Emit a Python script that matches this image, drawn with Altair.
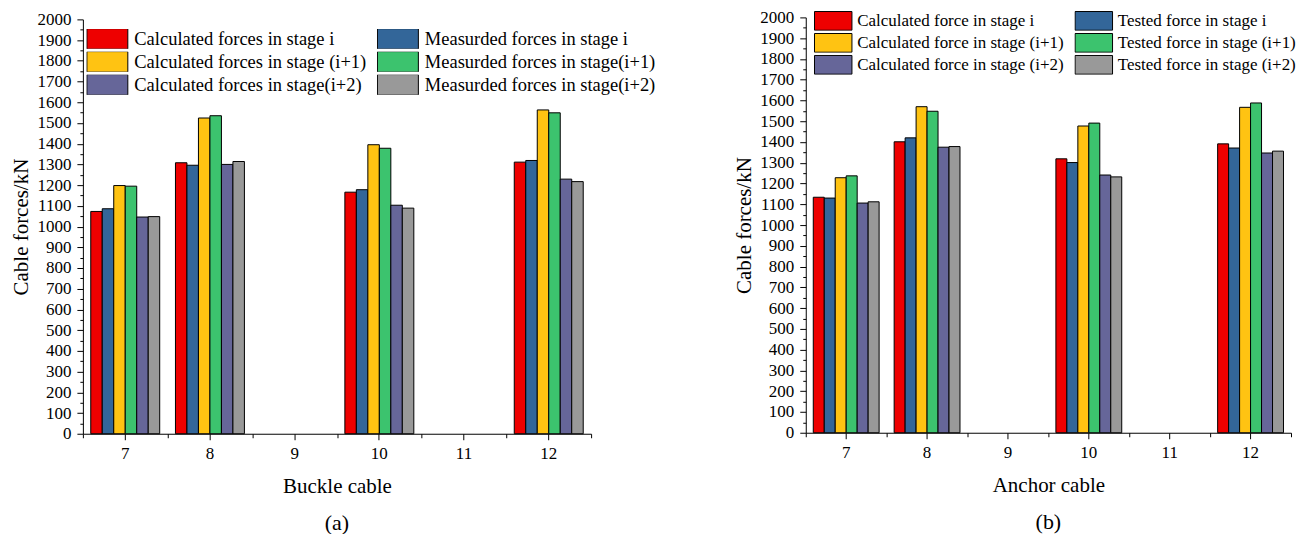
import altair as alt
import pandas as pd

# x categories (cable numbers); 9 and 11 carry no bars
cables = ["7", "8", "9", "10", "11", "12"]
data_cables = ["7", "8", "10", "12"]

colors = ["#EE0000", "#336699", "#FFC312", "#3CC36E", "#666699", "#999999"]

# ---- panel (a): Buckle cable ----
series_a = [
    "Calculated forces in stage i",
    "Measurded forces in stage i",
    "Calculated forces in stage (i+1)",
    "Measurded forces in stage(i+1)",
    "Calculated forces in stage(i+2)",
    "Measurded forces in stage(i+2)",
]
a_calc_i = [1073, 1308, 1166, 1311]
a_meas_i = [1086, 1296, 1178, 1319]
a_calc_i1 = [1198, 1524, 1395, 1563]
a_meas_i1 = [1195, 1535, 1378, 1549]
a_calc_i2 = [1046, 1300, 1103, 1229]
a_meas_i2 = [1048, 1314, 1089, 1217]

# ---- panel (b): Anchor cable ----
series_b = [
    "Calculated force in stage i",
    "Tested force in stage i",
    "Calculated force in stage (i+1)",
    "Tested force in stage (i+1)",
    "Calculated force in stage (i+2)",
    "Tested force in stage (i+2)",
]
b_calc_i = [1134, 1401, 1319, 1391]
b_test_i = [1130, 1420, 1301, 1371]
b_calc_i1 = [1228, 1570, 1477, 1567]
b_test_i1 = [1237, 1548, 1491, 1588]
b_calc_i2 = [1106, 1375, 1241, 1347]
b_test_i2 = [1112, 1378, 1232, 1356]

FONT = "Liberation Serif"


def make_df(series, values):
    rows = []
    for s, vals in zip(series, values):
        for c, v in zip(data_cables, vals):
            rows.append({"cable": c, "series": s, "force": v})
    return pd.DataFrame(rows)


def panel(df, series, xtitle, caption, w, h, yrange, legend_x, legend_y, sym_w,
          lg_font, lg_offset, lg_rowpad, lg_colpad):
    xscale = alt.Scale(domain=cables, paddingInner=0, paddingOuter=0)
    yscale_kw = dict(domain=[0, 2000], nice=False, zero=True)
    if yrange is not None:
        yscale_kw["range"] = yrange
    bars = alt.Chart(df).mark_bar(stroke="black", strokeWidth=1).encode(
        x=alt.X(
            "cable:N",
            sort=cables,
            scale=xscale,
            axis=alt.Axis(
                orient="bottom", labelAngle=0, title=xtitle, tickSize=6,
                labelPadding=6, titlePadding=14, labelFont=FONT, labelFontSize=17,
                titleFont=FONT, titleFontSize=21,
            ),
        ),
        xOffset=alt.XOffset(
            "series:N", sort=series,
            scale=alt.Scale(domain=series, paddingInner=0, paddingOuter=0.685),
        ),
        y=alt.Y(
            "force:Q",
            scale=alt.Scale(**yscale_kw),
            axis=alt.Axis(
                title="Cable forces/kN",
                values=list(range(0, 2001, 50)),
                labelExpr="datum.value % 100 === 0 ? datum.label : ''",
                tickSize={"condition": {"test": "datum.value % 100 === 0", "value": 6}, "value": 3},
                labelPadding=6,
                titlePadding=5,
                format="d",
                labelFont=FONT, labelFontSize=17,
                titleFont=FONT, titleFontSize=21,
            ),
        ),
        color=alt.Color(
            "series:N", sort=series,
            scale=alt.Scale(domain=series, range=colors),
            legend=alt.Legend(
                title=None, orient="none", legendX=legend_x, legendY=legend_y,
                columns=2, direction="horizontal",
                symbolType="M-1,-0.5H1V0.5H-1Z", symbolSize=sym_w * sym_w,
                symbolStrokeColor="black", symbolStrokeWidth=1, symbolOpacity=1,
                labelFont=FONT, labelFontSize=lg_font, labelColor="black",
                labelOffset=lg_offset, rowPadding=lg_rowpad, columnPadding=lg_colpad,
                clipHeight=20, labelLimit=400,
            ),
        ),
    )
    minor = alt.Chart(df).mark_point(opacity=0).encode(
        x=alt.X(
            "cable:N", sort=cables, scale=xscale,
            axis=alt.Axis(orient="bottom", tickBand="extent", labels=False,
                          domain=False, title=None, tickSize=4),
        ),
    )
    return (
        alt.layer(bars, minor)
        .resolve_axis(x="independent")
        .properties(
            width=w, height=h,
            title=alt.TitleParams(caption, orient="bottom", font=FONT, fontSize=22,
                                  fontWeight="normal", offset=16, color="black"),
        )
    )


df_a = make_df(series_a, [a_calc_i, a_meas_i, a_calc_i1, a_meas_i1, a_calc_i2, a_meas_i2])
df_b = make_df(series_b, [b_calc_i, b_test_i, b_calc_i1, b_test_i1, b_calc_i2, b_test_i2])

left = panel(df_a, series_a, "Buckle cable", "(a)", 509, 417, [417, 2],
             3.5, 11.5, 41, 18.5, 6, 3, 10)
right = panel(df_b, series_b, "Anchor cable", "(b)", 486, 416, None,
              8, -6.5, 37.5, 17, 4.5, 2, 10)

chart = (
    alt.hconcat(left, right, spacing=215, bounds="flush")
    .resolve_scale(color="independent", xOffset="independent", x="independent", y="independent")
    .resolve_legend(color="independent")
    .properties(padding={"left": 3, "top": 0, "right": 0, "bottom": 0})
    .configure_view(stroke=None)
    .configure_axis(
        labelFont=FONT, labelFontSize=17, labelColor="black",
        titleFont=FONT, titleFontSize=21, titleFontWeight="normal", titleColor="black",
        domainColor="black", tickColor="black", domainWidth=1, tickWidth=1, grid=False,
    )
)

chart.save("out.html", embed_options={"renderer": "svg", "actions": False})
